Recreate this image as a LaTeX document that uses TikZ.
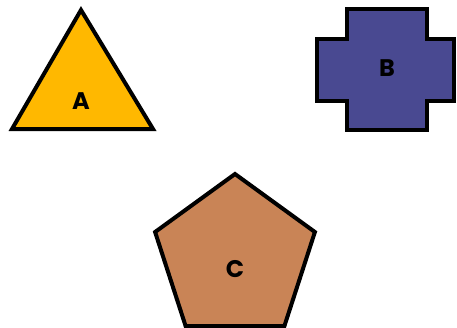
\documentclass[tikz,border=0pt]{standalone}
\usepackage{fontspec}
\setmainfont{Poppins}
\usetikzlibrary{calc}
\definecolor{triA}{RGB}{255,184,0}
\definecolor{crossB}{RGB}{73,73,145}
\definecolor{pentC}{RGB}{201,132,86}
\begin{document}
\begin{tikzpicture}[x=1pt,y=-1pt,
  shapeline/.style={draw=black,line width=4pt,line join=miter},
  lbl/.style={font=\fontsize{24}{24}\selectfont\bfseries,text=black,inner sep=0pt}]
\useasboundingbox (0,0) rectangle (457,327);
% A
\coordinate (a1) at (81,10);
\coordinate (a2) at (12,129);
\coordinate (a3) at (153,129);
\fill[triA] (a1) -- (a2) -- (a3) -- cycle;
\draw[shapeline] (a1) -- (a2) -- (a3) -- cycle;
\node[lbl] (A) at (81,101) {A};
% B
\fill[crossB] (347,9) -- (427,9) -- (427,39) -- (454,39) -- (454,101) -- (427,101) -- (427,130) -- (347,130) -- (347,101) -- (317,101) -- (317,39) -- (347,39) -- cycle;
\draw[shapeline] (347,9) -- (427,9) -- (427,39) -- (454,39) -- (454,101) -- (427,101) -- (427,130) -- (347,130) -- (347,101) -- (317,101) -- (317,39) -- (347,39) -- cycle;
\node[lbl] (B) at (387,68) {B};
% C
\coordinate (cc) at (235,258);
\fill[pentC] ($(cc)+(0,-84)$) -- ($(cc)+(-79.9,-26)$) -- ($(cc)+(-49.4,68)$) -- ($(cc)+(49.4,68)$) -- ($(cc)+(79.9,-26)$) -- cycle;
\draw[shapeline] ($(cc)+(0,-84)$) -- ($(cc)+(-79.9,-26)$) -- ($(cc)+(-49.4,68)$) -- ($(cc)+(49.4,68)$) -- ($(cc)+(79.9,-26)$) -- cycle;
\node[lbl] (C) at (235,269) {C};
\end{tikzpicture}
\end{document}
